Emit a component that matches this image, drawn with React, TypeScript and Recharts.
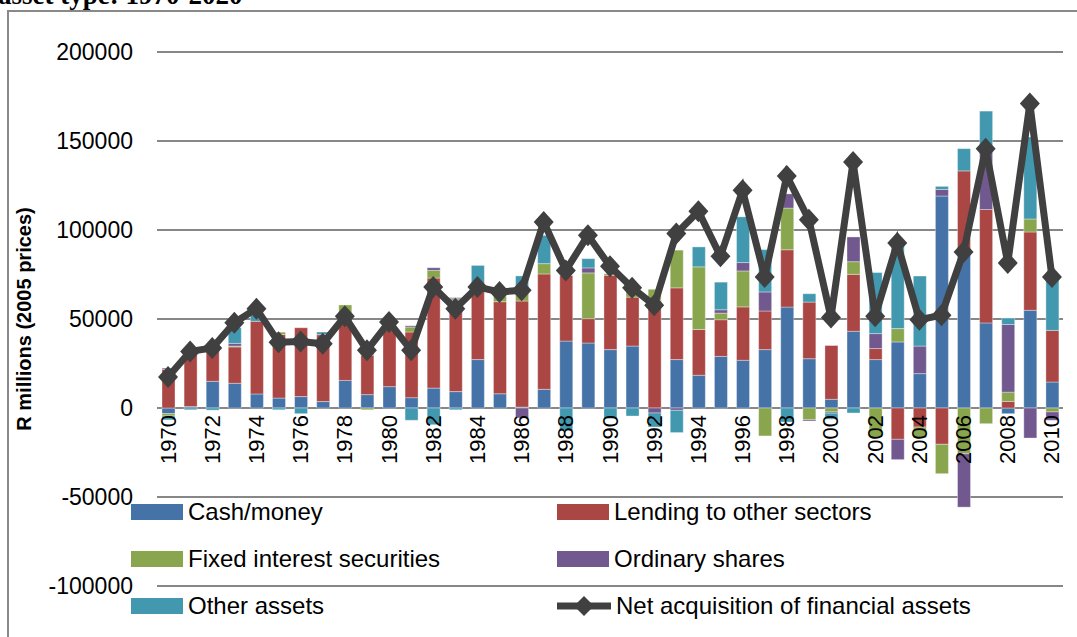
import { ComposedChart, Bar, Line, XAxis, YAxis, CartesianGrid } from 'recharts';

const years = [
  1970, 1971, 1972, 1973, 1974, 1975, 1976, 1977, 1978, 1979,
  1980, 1981, 1982, 1983, 1984, 1985, 1986, 1987, 1988, 1989,
  1990, 1991, 1992, 1993, 1994, 1995, 1996, 1997, 1998, 1999,
  2000, 2001, 2002, 2003, 2004, 2005, 2006, 2007, 2008, 2009, 2010,
];

const cash = [
  -3200, 800, 15000, 13900, 7900, 5600, 6400, 3600, 15500, 7500,
  12000, 5800, 11200, 9200, 27200, 8000, 500, 10500, 37600, 36500,
  32800, 34800, 0, 27200, 18400, 29000, 26800, 32800, 56700, 27700,
  4900, 43100, 27200, 37100, 19300, 119100, 87700, 47800, -3200, 54900, 14600,
];

const lending = [
  21700, 31400, 18300, 20400, 40800, 35700, 38700, 37600, 38000, 22100,
  31600, 36900, 61800, 51300, 40000, 51700, 59600, 64800, 36900, 13700,
  41800, 27500, 60500, 40300, 25700, 20600, 30000, 21700, 32200, 31800,
  30200, 32000, 6200, -17600, -10700, -20400, 45500, 63700, 3700, 44000, 29000,
];

const fixedInterest = [
  -1300, 0, 0, 500, 0, 1300, 0, 0, 4400, -1000,
  0, 2800, 4300, 900, 0, 3000, 4700, 5800, 0, 25700,
  800, 4000, 6200, 21200, 35200, 3700, 20200, -15700, 23400, -6600,
  -2200, 7100, -16300, 7500, -6000, -16500, -25700, -8800, 5200, 7300, -2200,
];

const shares = [
  700, 0, 0, 1500, 0, 0, 0, 0, 0, 600,
  0, 700, 1500, 600, 0, 0, -5600, 0, 0, 2800,
  0, 0, -2800, -1300, 0, 1900, 4700, 10700, 8000, -700,
  -700, 13900, 8400, -11400, 15500, 3700, -30000, 32400, 38000, -16900, -4700,
];

const otherAssets = [
  -2200, -1000, -1200, 8800, 3400, -1000, -3200, 1500, 0, 0,
  0, -6900, -9400, -1000, 12900, 0, 9400, 15900, -12500, 5200,
  -6000, -4500, -7900, -12500, 11200, 15500, 25700, 23800, -7900, 4700,
  -3400, -2800, 34300, 46800, 39300, 1700, 12500, 22900, 3600, 46000, 30000,
];

const netAcquisition = [
  17400, 31800, 33700, 47900, 55800, 37000, 37400, 36100, 51500, 32400,
  48300, 32400, 68000, 55800, 68000, 65200, 66100, 104500, 77300, 97000,
  79600, 67600, 57700, 98000, 110500, 85200, 122300, 73600, 130400, 105800,
  50800, 138200, 51500, 92700, 49600, 52100, 87700, 145700, 81500, 171000, 73600,
];

const yTicks = [-100000, -50000, 0, 50000, 100000, 150000, 200000];

const series = [
  { key: 'cash', label: 'Cash/money', color: '#4572A7' },
  { key: 'lending', label: 'Lending to other sectors', color: '#AA4643' },
  { key: 'fixedInterest', label: 'Fixed interest securities', color: '#89A54E' },
  { key: 'shares', label: 'Ordinary shares', color: '#71588F' },
  { key: 'otherAssets', label: 'Other assets', color: '#4198AF' },
];

const data = years.map((year, i) => ({
  year,
  cash: cash[i],
  lending: lending[i],
  fixedInterest: fixedInterest[i],
  shares: shares[i],
  otherAssets: otherAssets[i],
  netAcquisition: netAcquisition[i],
}));

const W = 1077;
const H = 637;
const TOP = 52;
const BOTTOM = 51;
const Y_MIN = -100000;
const Y_MAX = 200000;
const ZERO_Y = TOP + ((H - TOP - BOTTOM) * Y_MAX) / (Y_MAX - Y_MIN);
const FONT = '"Liberation Sans", Arial, sans-serif';
const LINE_COLOR = '#404040';

function YearTick(props: any) {
  const { x, payload } = props;
  const y = ZERO_Y + 7;
  return (
    <text
      x={x}
      y={y}
      transform={`rotate(-90 ${x} ${y})`}
      textAnchor="end"
      dominantBaseline="central"
      fontSize={22}
      fontFamily={FONT}
      fill="#000"
    >
      {payload.value}
    </text>
  );
}

function Diamond(props: any) {
  const { cx, cy } = props;
  if (cx == null || cy == null) return null;
  return (
    <path
      d={`M${cx} ${cy - 11} L${cx + 10} ${cy} L${cx} ${cy + 11} L${cx - 10} ${cy} Z`}
      fill={LINE_COLOR}
    />
  );
}

function YTitle() {
  return (
    <text
      x={24}
      y={319}
      transform="rotate(-90 24 319)"
      textAnchor="middle"
      dominantBaseline="central"
      fontSize={20}
      fontWeight="bold"
      fontFamily={FONT}
      fill="#000"
    >
      R millions (2005 prices)
    </text>
  );
}

function LegendItem({ item, line }: { item: { label: string; color: string }; line?: boolean }) {
  return (
    <div style={{ display: 'flex', alignItems: 'center', height: 30 }}>
      {line ? (
        <svg width={54} height={24} style={{ marginRight: 5 }}>
          <line x1={0} y1={12} x2={54} y2={12} stroke={LINE_COLOR} strokeWidth={7} />
          <path d="M27 2 L37 12 L27 22 L17 12 Z" fill={LINE_COLOR} />
        </svg>
      ) : (
        <div style={{ width: 52, height: 16, background: item.color, marginRight: 5 }} />
      )}
      <span style={{ fontSize: 24, fontFamily: FONT, whiteSpace: 'nowrap' }}>{item.label}</span>
    </div>
  );
}

export default function App() {
  const legendItems = [
    ...series.map((s) => ({ ...s, line: false })),
    { key: 'netAcquisition', label: 'Net acquisition of financial assets', color: LINE_COLOR, line: true },
  ];
  return (
    <div style={{ position: 'absolute', left: 0, top: 0, width: W, height: H, overflow: 'hidden', background: '#fff' }}>
      <div
        style={{
          position: 'absolute',
          left: -2,
          top: -20,
          fontFamily: '"Liberation Serif", "Times New Roman", serif',
          fontWeight: 'bold',
          fontSize: 27,
          whiteSpace: 'nowrap',
        }}
      >
        asset type: 1970-2020
      </div>
      <div
        style={{
          position: 'absolute',
          left: 7,
          top: 10,
          width: W + 20,
          height: H + 20,
          border: '2px solid #898989',
        }}
      />
      <div style={{ position: 'absolute', left: 0, top: 0 }}>
        <ComposedChart
          width={W}
          height={H}
          data={data}
          stackOffset="sign"
          barSize={13}
          margin={{ top: TOP, right: 14, bottom: BOTTOM - 20, left: 0 }}
        >
          <CartesianGrid vertical={false} stroke="#878787" strokeWidth={2} />
          <XAxis
            dataKey="year"
            interval={1}
            axisLine={false}
            tickLine={false}
            height={20}
            tick={<YearTick />}
          />
          <YAxis
            width={157}
            domain={[Y_MIN, Y_MAX]}
            ticks={yTicks}
            axisLine={false}
            tickLine={false}
            tickSize={0}
            tickMargin={24}
            tick={{ fontSize: 23, fontFamily: FONT, fill: '#000' }}
            label={<YTitle />}
          />
          {series.map((s) => (
            <Bar
              key={s.key}
              dataKey={s.key}
              stackId="a"
              barSize={13}
              fill={s.color}
              stroke="rgba(255,255,255,0.35)"
              strokeWidth={1}
              isAnimationActive={false}
            />
          ))}
          <Line
            type="linear"
            dataKey="netAcquisition"
            stroke={LINE_COLOR}
            strokeWidth={7}
            dot={<Diamond />}
            activeDot={false}
            isAnimationActive={false}
          />
        </ComposedChart>
      </div>
      <div
        style={{
          position: 'absolute',
          left: 131,
          top: 497,
          display: 'grid',
          gridTemplateColumns: '426px 460px',
          rowGap: 17,
        }}
      >
        {legendItems.map((it) => (
          <LegendItem key={it.key} item={it} line={it.line} />
        ))}
      </div>
    </div>
  );
}
